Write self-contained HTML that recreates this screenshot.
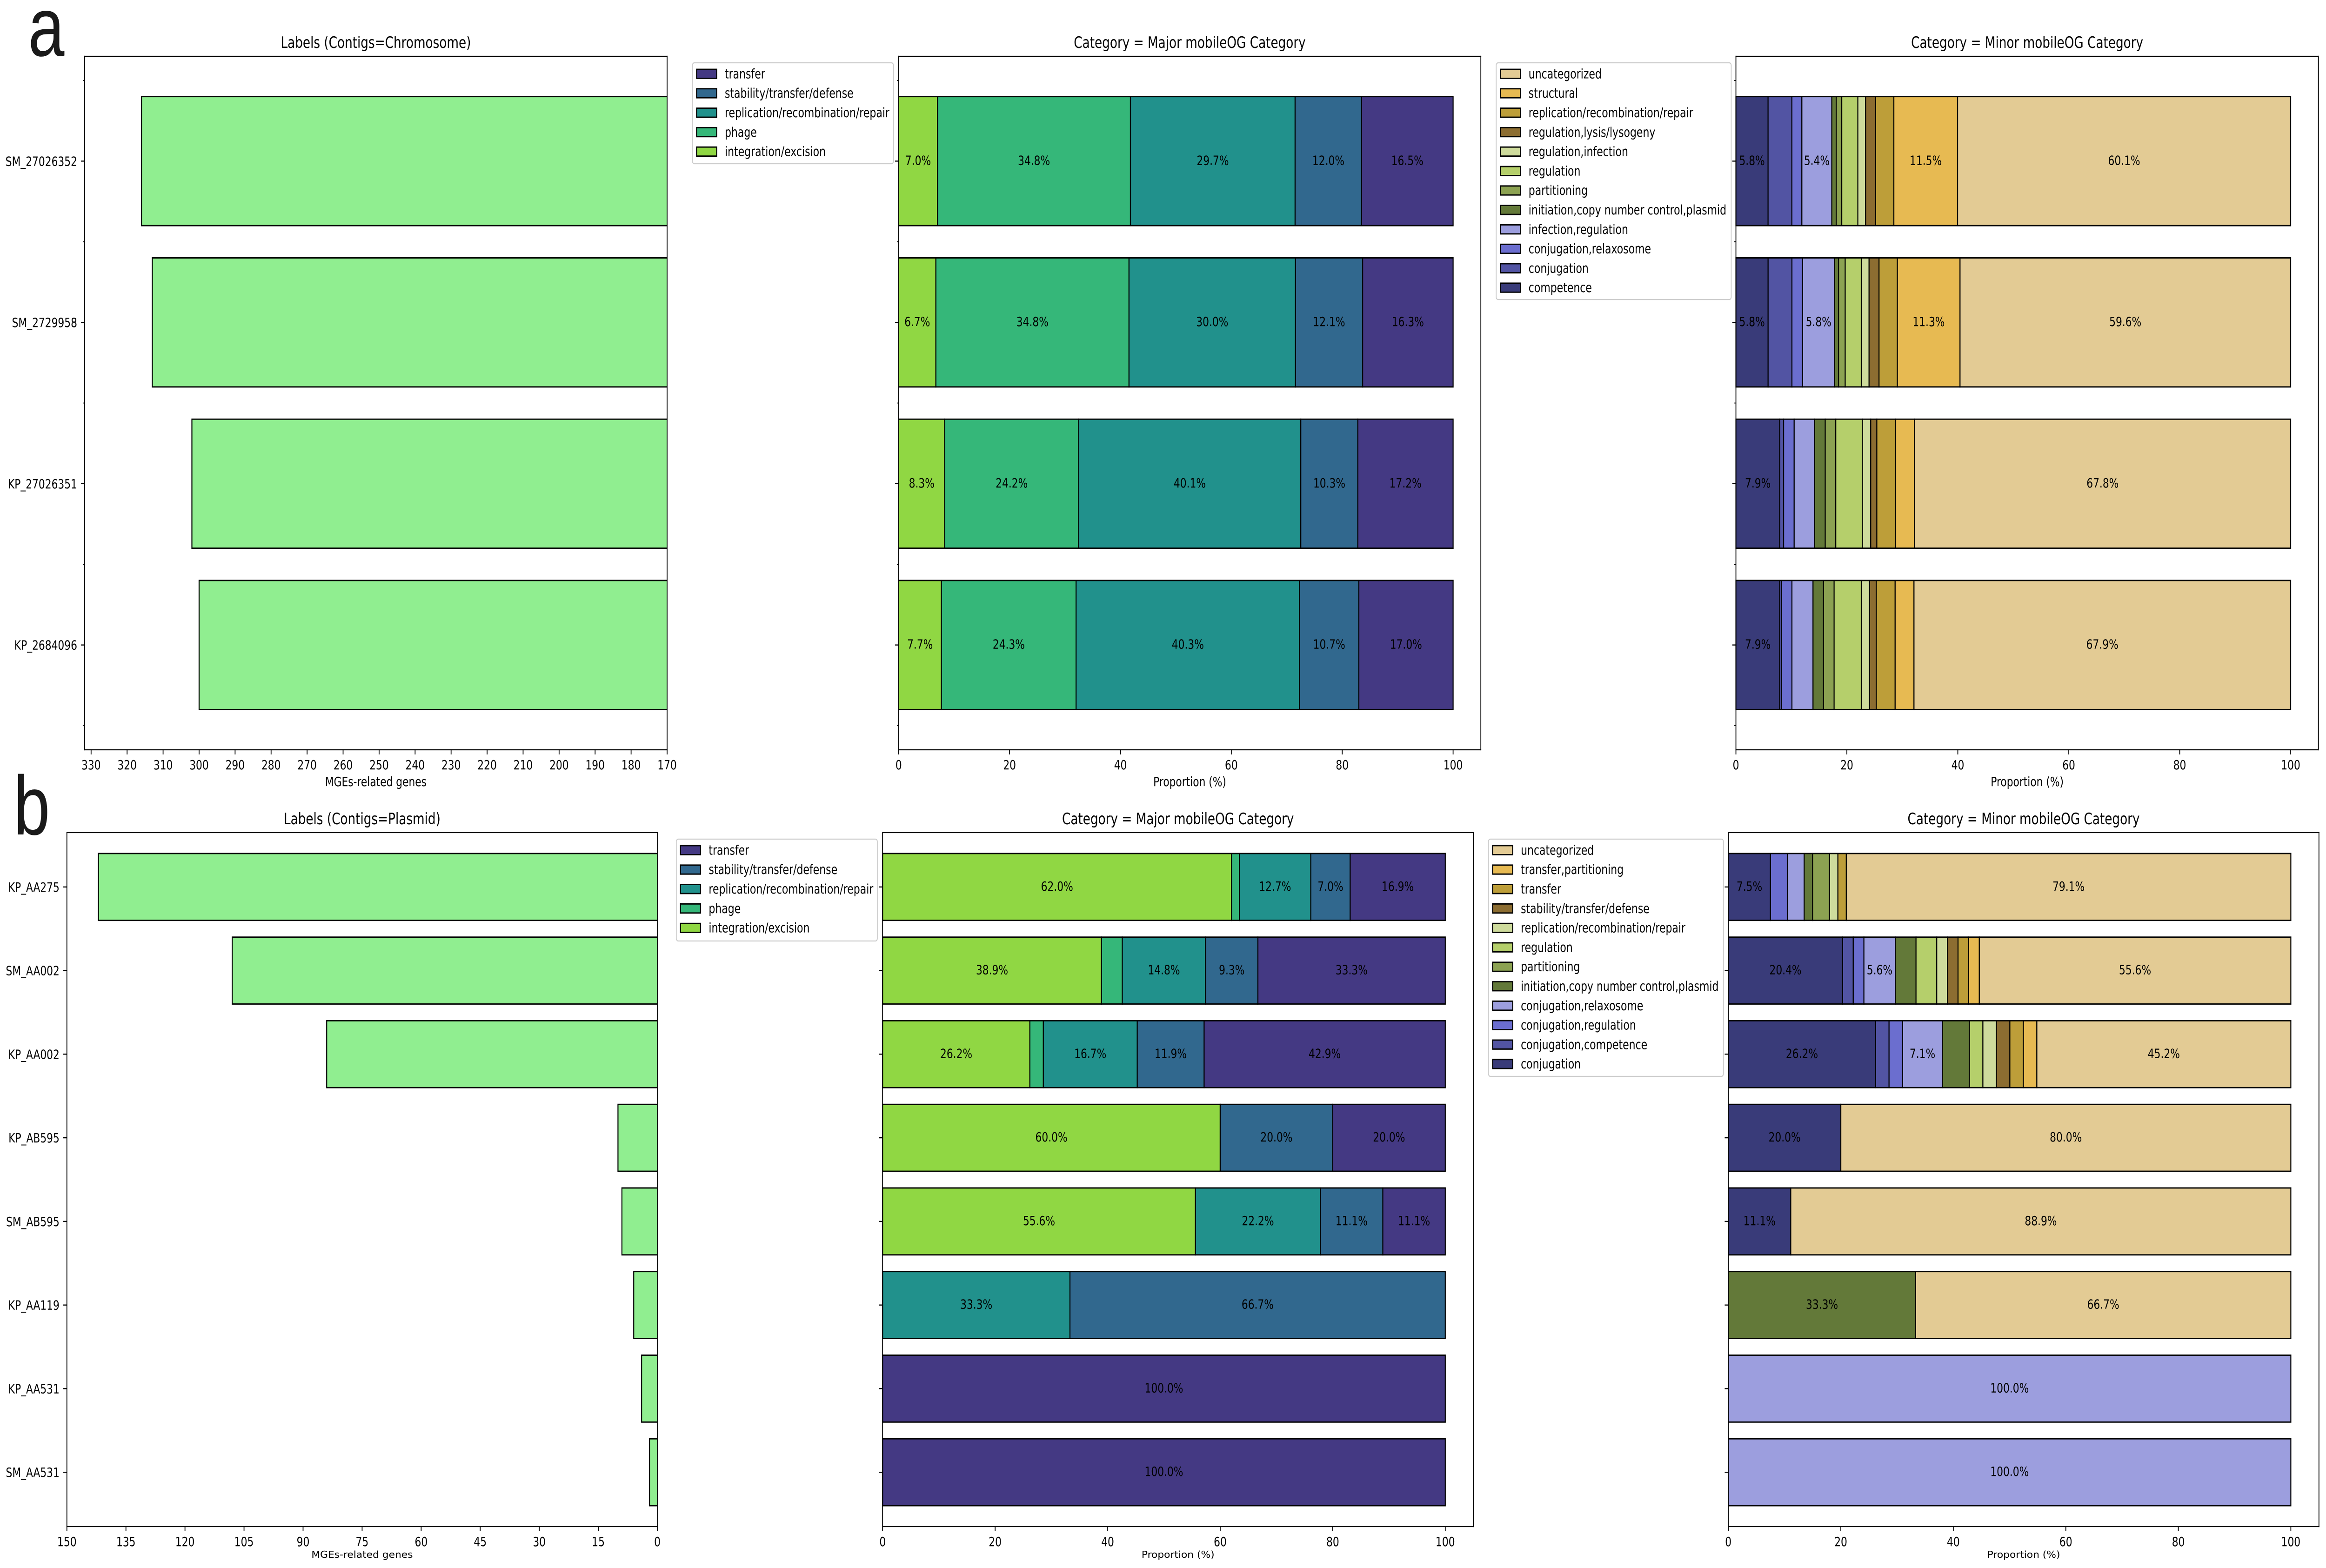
<!DOCTYPE html>
<html lang="en">
<head>
<meta charset="utf-8">
<title>mobileOG category composition by contig type</title>
<style>
  html, body { margin: 0; padding: 0; background: #ffffff; width: 100%; height: 100%; overflow: hidden; }
  #figure { display: block; width: 100vw; height: 100vh; background: #ffffff; }
  text { font-family: "DejaVu Sans", "Liberation Sans", sans-serif; fill: #000000; }
  .panel-letter { font-family: "Liberation Sans", sans-serif; font-size: 180px; fill: #1a1a1a; }
</style>
</head>
<body>
<svg id="figure" xmlns="http://www.w3.org/2000/svg" viewBox="0 0 6433 3371" preserveAspectRatio="none">
  <rect x="0" y="0" width="6433" height="3371" fill="#ffffff"></rect>
  <defs>
    <clipPath id="clip-a1"><rect x="234" y="121" width="1611" height="1491"></rect></clipPath>
    <clipPath id="clip-b1"><rect x="185" y="1790" width="1633" height="1492"></rect></clipPath>
  </defs>
  <g id="root"></g>
  <text class="panel-letter" x="78" y="120">a</text>
  <text class="panel-letter" x="38" y="1794">b</text>
</svg>
<script>
// ---------- Data: section a (chromosome contigs) ----------
const chromosomeContigs = ['SM_27026352', 'SM_2729958', 'KP_27026351', 'KP_2684096'];
const chromosomeGeneCounts = [316, 313, 302, 300];
const chromosomeCountTicks = [330, 320, 310, 300, 290, 280, 270, 260, 250, 240, 230, 220, 210, 200, 190, 180, 170];
const chromosomeCountDomain = [331.8, 170];

const chromosomeMajorCategories = ['integration/excision', 'phage', 'replication/recombination/repair', 'stability/transfer/defense', 'transfer'];
const chromosomeMajorColors = ['#90d743', '#35b779', '#21918c', '#31688e', '#443983'];
const chromosomeMajorValues = [
  [7.0, 34.8, 29.7, 12.0, 16.5],
  [6.7, 34.8, 30.0, 12.1, 16.3],
  [8.3, 24.2, 40.1, 10.3, 17.2],
  [7.7, 24.3, 40.3, 10.7, 17.0]
];

const chromosomeMinorCategories = ['competence', 'conjugation', 'conjugation,relaxosome', 'infection,regulation', 'initiation,copy number control,plasmid', 'partitioning', 'regulation', 'regulation,infection', 'regulation,lysis/lysogeny', 'replication/recombination/repair', 'structural', 'uncategorized'];
const chromosomeMinorColors = ['#393b79', '#5254a3', '#6b6ecf', '#9c9ede', '#637939', '#8ca252', '#b5cf6b', '#cedb9c', '#8c6d31', '#bd9e39', '#e7ba52', '#e3cb94'];
const chromosomeMinorValues = [
  [5.8, 4.3, 1.8, 5.4, 0.8, 1.0, 2.9, 1.4, 1.8, 3.3, 11.5, 60.1],
  [5.8, 4.3, 1.9, 5.8, 0.7, 1.2, 2.9, 1.4, 1.8, 3.3, 11.3, 59.6],
  [7.9, 0.7, 1.9, 3.7, 1.9, 1.9, 4.8, 1.5, 1.1, 3.4, 3.4, 67.8],
  [7.9, 0.3, 1.9, 3.8, 1.9, 1.9, 4.9, 1.5, 1.2, 3.4, 3.4, 67.9]
];

// ---------- Data: section b (plasmid contigs) ----------
const plasmidContigs = ['KP_AA275', 'SM_AA002', 'KP_AA002', 'KP_AB595', 'SM_AB595', 'KP_AA119', 'KP_AA531', 'SM_AA531'];
const plasmidGeneCounts = [142, 108, 84, 10, 9, 6, 4, 2];
const plasmidCountTicks = [150, 135, 120, 105, 90, 75, 60, 45, 30, 15, 0];
const plasmidCountDomain = [150, 0];

const plasmidMajorCategories = ['integration/excision', 'phage', 'replication/recombination/repair', 'stability/transfer/defense', 'transfer'];
const plasmidMajorColors = ['#90d743', '#35b779', '#21918c', '#31688e', '#443983'];
const plasmidMajorValues = [
  [62.0, 1.4, 12.7, 7.0, 16.9],
  [38.9, 3.7, 14.8, 9.3, 33.3],
  [26.2, 2.4, 16.7, 11.9, 42.9],
  [60.0, 0, 0, 20.0, 20.0],
  [55.6, 0, 22.2, 11.1, 11.1],
  [0, 0, 33.3, 66.7, 0],
  [0, 0, 0, 0, 100.0],
  [0, 0, 0, 0, 100.0]
];

const plasmidMinorCategories = ['conjugation', 'conjugation,competence', 'conjugation,regulation', 'conjugation,relaxosome', 'initiation,copy number control,plasmid', 'partitioning', 'regulation', 'replication/recombination/repair', 'stability/transfer/defense', 'transfer', 'transfer,partitioning', 'uncategorized'];
const plasmidMinorColors = ['#393b79', '#5254a3', '#6b6ecf', '#9c9ede', '#637939', '#8ca252', '#b5cf6b', '#cedb9c', '#8c6d31', '#bd9e39', '#e7ba52', '#e3cb94'];
const plasmidMinorValues = [
  [7.5, 0, 3.0, 3.0, 1.5, 3.0, 0, 1.5, 0, 1.5, 0, 79.1],
  [20.4, 1.9, 1.9, 5.6, 3.7, 0, 3.7, 1.9, 1.9, 1.9, 1.9, 55.6],
  [26.2, 2.4, 2.4, 7.1, 4.8, 0, 2.4, 2.4, 2.4, 2.4, 2.4, 45.2],
  [20.0, 0, 0, 0, 0, 0, 0, 0, 0, 0, 0, 80.0],
  [11.1, 0, 0, 0, 0, 0, 0, 0, 0, 0, 0, 88.9],
  [0, 0, 0, 0, 33.3, 0, 0, 0, 0, 0, 0, 66.7],
  [0, 0, 0, 100.0, 0, 0, 0, 0, 0, 0, 0, 0],
  [0, 0, 0, 100.0, 0, 0, 0, 0, 0, 0, 0, 0]
];

const proportionTicks = [0, 20, 40, 60, 80, 100];
const proportionDomain = [0, 105];
const proportionAxisTitle = 'Proportion (%)';
const countAxisTitle = 'MGEs-related genes';
const chromosomeCountTitle = 'Labels (Contigs=Chromosome)';
const plasmidCountTitle = 'Labels (Contigs=Plasmid)';
const majorTitle = 'Category = Major mobileOG Category';
const minorTitle = 'Category = Minor mobileOG Category';
const countBarColor = '#90ee90';

// ---------- Drawing ----------
const SVG_NS = 'http://www.w3.org/2000/svg';
const root = document.getElementById('root');
const SPINE = 2.3, EDGE = 2.8, FONT = 28, LEGEND_FONT = 28.3, TITLE_FONT = 33.8;

function make(parent, tag, attrs, content) {
  const node = document.createElementNS(SVG_NS, tag);
  for (const key in attrs) node.setAttribute(key, attrs[key]);
  if (content !== undefined) node.textContent = content;
  parent.appendChild(node);
  return node;
}

function xAxisScale(box, domain) {
  return function (v) {
    return box.x0 + (v - domain[0]) / (domain[1] - domain[0]) * (box.x1 - box.x0);
  };
}

function yBandScale(box, count) {
  const band = (box.y1 - box.y0) / (count + 0.3);
  const fn = function (i) { return box.y0 + (i + 0.65) * band; };
  fn.band = band;
  return fn;
}

function drawFrame(g, box, key) {
  const sides = [
    ['left', box.x0, box.y0, box.x0, box.y1],
    ['right', box.x1, box.y0, box.x1, box.y1],
    ['top', box.x0, box.y0, box.x1, box.y0],
    ['bottom', box.x0, box.y1, box.x1, box.y1]
  ];
  sides.forEach(function (s) {
    const line = make(g, 'line', { x1: s[1], y1: s[2], x2: s[3], y2: s[4], stroke: '#000', 'stroke-width': SPINE, 'stroke-linecap': 'square' });
    
    
  });
}

function drawXAxis(g, box, ticks, scale, title, key, squash) {
  ticks.forEach(function (t) {
    const x = scale(t);
    const tick = make(g, 'line', { x1: x, y1: box.y1, x2: x, y2: box.y1 + 10, stroke: '#000', 'stroke-width': SPINE });
    
    
    const label = make(g, 'text', { x: x, y: box.y1 + box.tickBase, 'text-anchor': 'middle', 'font-size': FONT }, String(t));
    
    
  });
  const cx = (box.x0 + box.x1) / 2;
  const axisTitle = make(g, 'text', { transform: 'translate(' + cx + ' ' + (box.y1 + box.labelBase) + ') scale(1 ' + squash + ')', 'text-anchor': 'middle', 'font-size': FONT }, title);
  
  
}

function drawYTicks(g, box, contigs, yScale, key, showLabels, showMinor) {
  contigs.forEach(function (name, i) {
    const y = yScale(i);
    const tick = make(g, 'line', { x1: box.x0 - 10, y1: y, x2: box.x0, y2: y, stroke: '#000', 'stroke-width': SPINE });
    
    
    if (showLabels) {
      const label = make(g, 'text', { x: box.x0 - 20.5, y: y + 10, 'text-anchor': 'end', 'font-size': FONT }, name);
      
      
    }
  });
  if (showMinor) {
    for (let i = 0; i <= contigs.length; i++) {
      const y = yScale(i - 0.5);
      const minor = make(g, 'line', { x1: box.x0 - 5, y1: y, x2: box.x0, y2: y, stroke: '#000', 'stroke-width': 1.7 });
      
      
    }
  }
}

function drawTitle(g, box, title, key) {
  const t = make(g, 'text', { x: (box.x0 + box.x1) / 2, y: box.y0 - 18, 'text-anchor': 'middle', 'font-size': TITLE_FONT }, title);
  
  
}

function drawCountPanel(box, contigs, counts, ticks, domain, title, key, clipId, showMinor, squash) {
  const g = make(root, 'g', {});
  
  
  const xs = xAxisScale(box, domain);
  const ys = yBandScale(box, contigs.length);
  const bars = make(g, 'g', { 'clip-path': 'url(#' + clipId + ')' });
  
  
  contigs.forEach(function (name, i) {
    const h = ys.band * 0.8;
    const left = xs(counts[i]);
    const bar = make(bars, 'rect', { x: left, y: ys(i) - h / 2, width: xs(0) - left, height: h, fill: countBarColor, stroke: '#000', 'stroke-width': EDGE });
    
    
  });
  drawFrame(g, box, key);
  drawYTicks(g, box, contigs, ys, key, true, showMinor);
  drawXAxis(g, box, ticks, xs, countAxisTitle, key, squash);
  drawTitle(g, box, title, key);
}

function drawStackPanel(box, contigs, categories, colors, rows, title, key, showMinor, squash) {
  const g = make(root, 'g', {});
  
  
  const xs = xAxisScale(box, proportionDomain);
  const ys = yBandScale(box, contigs.length);
  const h = ys.band * 0.8;
  rows.forEach(function (row, i) {
    const total = row.reduce(function (a, b) { return a + b; }, 0);
    let cum = 0;
    row.forEach(function (value, c) {
      if (value <= 0) return;
      const start = cum / total * 100;
      cum += value;
      const end = cum / total * 100;
      const seg = make(g, 'rect', { x: xs(start), y: ys(i) - h / 2, width: xs(end) - xs(start), height: h, fill: colors[c], stroke: '#000', 'stroke-width': EDGE });
      
      
    });
  });
  rows.forEach(function (row, i) {
    const total = row.reduce(function (a, b) { return a + b; }, 0);
    let cum = 0;
    row.forEach(function (value, c) {
      const start = cum / total * 100;
      cum += value;
      const end = cum / total * 100;
      if (value < 5) return;
      const label = make(g, 'text', { x: xs((start + end) / 2), y: ys(i) + 8, 'text-anchor': 'middle', 'font-size': FONT }, value.toFixed(1) + '%');
      
      
    });
  });
  drawFrame(g, box, key);
  drawYTicks(g, box, contigs, ys, key, false, showMinor);
  drawXAxis(g, box, proportionTicks, xs, proportionAxisTitle, key, squash);
  drawTitle(g, box, title, key);
}

function drawLegend(frame, categories, colors, key) {
  const g = make(root, 'g', {});
  
  
  const box = make(g, 'rect', { x: frame.x, y: frame.y, width: frame.w, height: frame.h, rx: 5.5, ry: 5.5, fill: '#ffffff', stroke: '#cccccc', 'stroke-width': 2.3 });
  
  
  const order = categories.slice().reverse();
  const swatchColors = colors.slice().reverse();
  order.forEach(function (name, i) {
    const cy = frame.y + 23.7 + i * 41.8;
    const swatch = make(g, 'rect', { x: frame.x + 11.5, y: cy - 9.7, width: 55.6, height: 19.4, fill: swatchColors[i], stroke: '#000', 'stroke-width': EDGE });
    
    
    const label = make(g, 'text', { x: frame.x + 89.5, y: cy + 9.7, 'font-size': LEGEND_FONT }, name);
    
    
  });
}

const rowA = { y0: 121, y1: 1612, tickBase: 42, labelBase: 78 };
const rowB = { y0: 1790, y1: 3282, tickBase: 42, labelBase: 67 };
const boxA1 = Object.assign({ x0: 234, x1: 1845 }, rowA);
const boxA2 = Object.assign({ x0: 2485.5, x1: 4095.5 }, rowA);
const boxA3 = Object.assign({ x0: 4801, x1: 6412 }, rowA);
const boxB1 = Object.assign({ x0: 185, x1: 1818 }, rowB);
const boxB2 = Object.assign({ x0: 2441, x1: 4075 }, rowB);
const boxB3 = Object.assign({ x0: 4780, x1: 6413.5 }, rowB);

drawCountPanel(boxA1, chromosomeContigs, chromosomeGeneCounts, chromosomeCountTicks, chromosomeCountDomain, chromosomeCountTitle, 'chromosome-count', 'clip-a1', true, 1);
drawStackPanel(boxA2, chromosomeContigs, chromosomeMajorCategories, chromosomeMajorColors, chromosomeMajorValues, majorTitle, 'chromosome-major', true, 1);
drawStackPanel(boxA3, chromosomeContigs, chromosomeMinorCategories, chromosomeMinorColors, chromosomeMinorValues, minorTitle, 'chromosome-minor', true, 1);
drawCountPanel(boxB1, plasmidContigs, plasmidGeneCounts, plasmidCountTicks, plasmidCountDomain, plasmidCountTitle, 'plasmid-count', 'clip-b1', false, 0.72);
drawStackPanel(boxB2, plasmidContigs, plasmidMajorCategories, plasmidMajorColors, plasmidMajorValues, majorTitle, 'plasmid-major', false, 0.72);
drawStackPanel(boxB3, plasmidContigs, plasmidMinorCategories, plasmidMinorColors, plasmidMinorValues, minorTitle, 'plasmid-minor', false, 0.72);

drawLegend({ x: 1915, y: 135, w: 556, h: 217 }, chromosomeMajorCategories, chromosomeMajorColors, 'chromosome-major');
drawLegend({ x: 4138, y: 135, w: 650, h: 509 }, chromosomeMinorCategories, chromosomeMinorColors, 'chromosome-minor');
drawLegend({ x: 1870.5, y: 1804, w: 556, h: 219 }, plasmidMajorCategories, plasmidMajorColors, 'plasmid-major');
drawLegend({ x: 4116.5, y: 1804, w: 650, h: 510 }, plasmidMinorCategories, plasmidMinorColors, 'plasmid-minor');
</script>
</body>
</html>
